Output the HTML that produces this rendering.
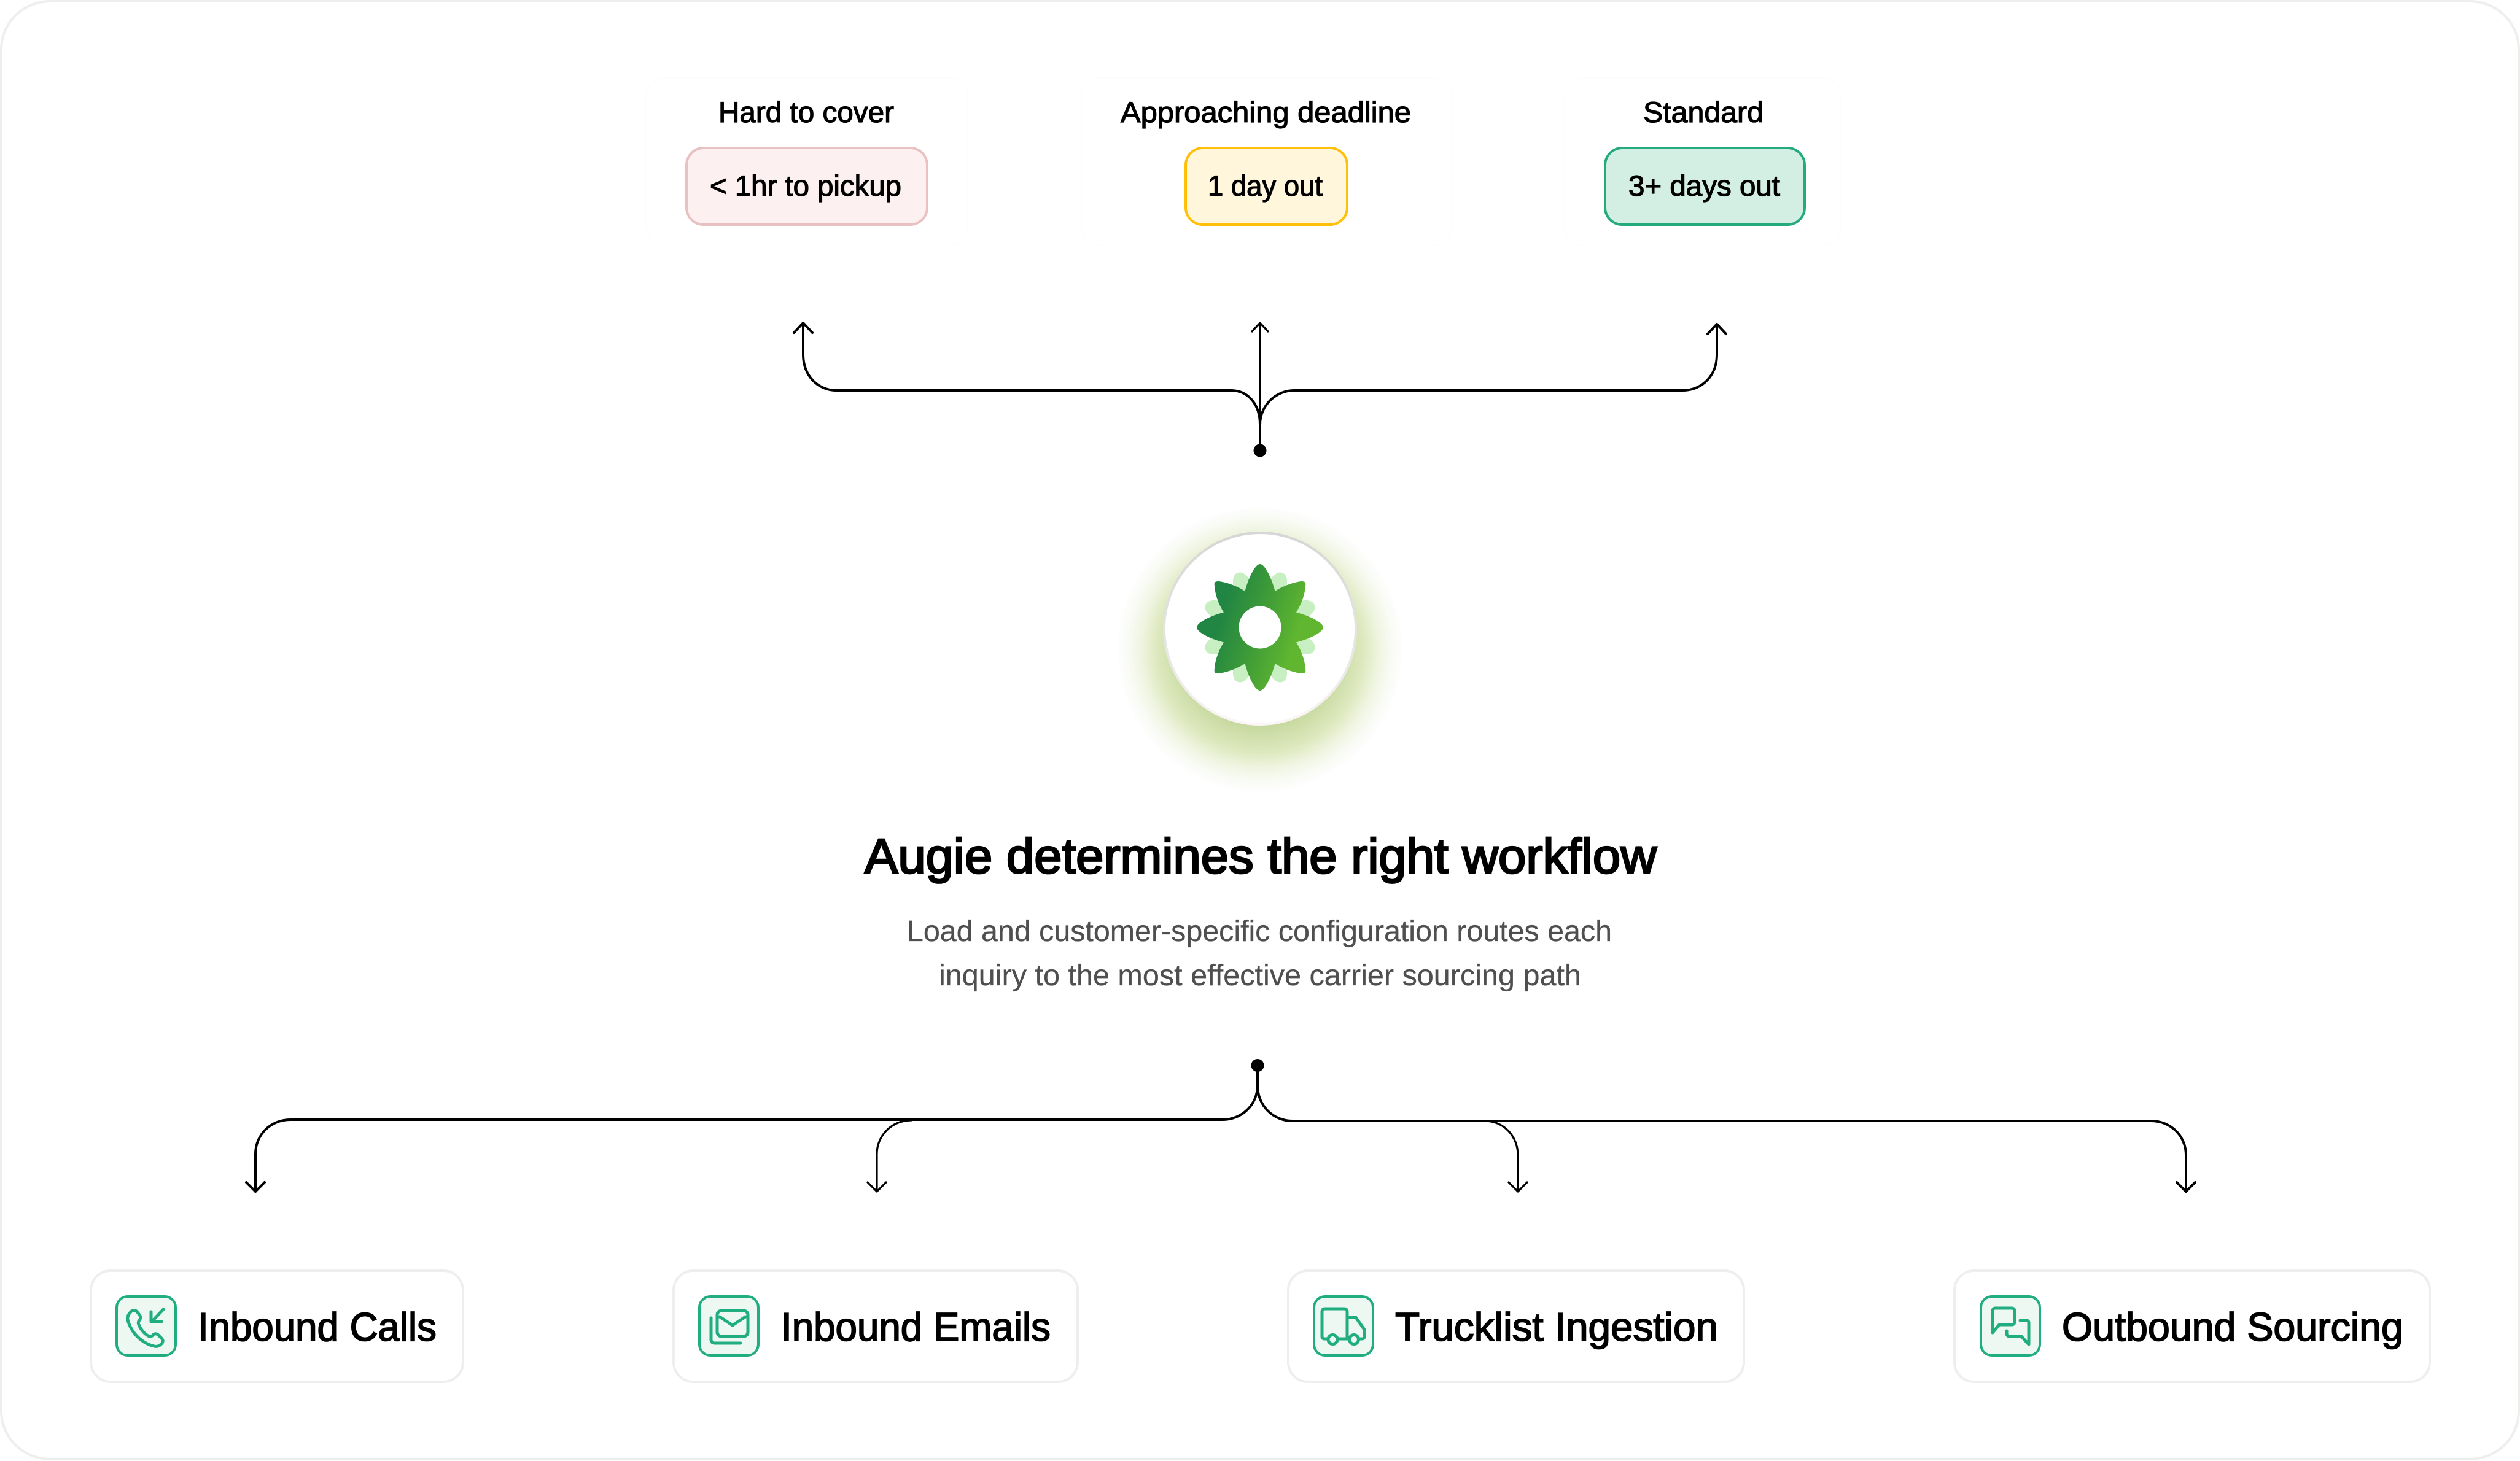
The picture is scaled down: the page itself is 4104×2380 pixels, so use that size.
<!DOCTYPE html>
<html lang="en">
<head>
<meta charset="utf-8">
<title>Augie determines the right workflow</title>
<style>
html,body{margin:0;padding:0;background:#fff;width:4104px;height:2380px;overflow:hidden}
svg{display:block}
text{font-family:"Liberation Sans",Arial,sans-serif;fill:#000}
.s{font-size:47px;stroke:#000;stroke-width:1.2px}
.c{font-size:65px;stroke:#000;stroke-width:1.8px}
.sub{font-size:48px;fill:#4f4f4f;stroke:#4f4f4f;stroke-width:.3px}
.line{fill:none;stroke:#000;stroke-width:4;stroke-linecap:round;stroke-linejoin:round}
.thin{fill:none;stroke:#000;stroke-width:3.2;stroke-linecap:round;stroke-linejoin:round}
.card{fill:#fff;stroke:#eeeeec;stroke-width:4}
.ib{fill:#eef8f3;stroke:#20ad7f;stroke-width:4}
.ic{fill:none;stroke:#20ad7f;stroke-width:5;stroke-linecap:round;stroke-linejoin:round}
</style>
</head>
<body>
<svg width="4104" height="2380" viewBox="0 0 4104 2380" xmlns="http://www.w3.org/2000/svg">
<defs>
<radialGradient id="glow" gradientUnits="userSpaceOnUse" cx="2052" cy="1058" r="232">
<stop offset="0" stop-color="#c0d494"/>
<stop offset=".53" stop-color="#c5d89e"/>
<stop offset=".72" stop-color="#dde8bd"/>
<stop offset=".84" stop-color="#f0f5e2"/>
<stop offset=".93" stop-color="#f9fbf5"/>
<stop offset="1" stop-color="#fefefe"/>
</radialGradient>
<linearGradient id="rim" x1="0" y1="0" x2="0" y2="1">
<stop offset="0" stop-color="#d6d6d6"/>
<stop offset=".6" stop-color="#e6e6e6"/>
<stop offset="1" stop-color="#fbf5f5"/>
</linearGradient>
<linearGradient id="fl" gradientUnits="userSpaceOnUse" x1="-65" y1="-20" x2="60" y2="20">
<stop offset="0" stop-color="#218543"/>
<stop offset=".5" stop-color="#3f9c37"/>
<stop offset="1" stop-color="#60b72f"/>
</linearGradient>
</defs>

<rect x="2" y="2" width="4100" height="2375" rx="80" ry="78" fill="#fff" stroke="#eeeeec" stroke-width="4"/>

<!-- faint top containers -->
<rect x="1052" y="127" width="524" height="273" rx="30" fill="#fff" stroke="#fdfdfd" stroke-width="2"/>
<rect x="1761" y="127" width="603" height="273" rx="30" fill="#fff" stroke="#fdfdfd" stroke-width="2"/>
<rect x="2548" y="127" width="450" height="273" rx="30" fill="#fff" stroke="#fdfdfd" stroke-width="2"/>

<!-- top labels -->
<text class="s" x="1170" y="199" textLength="286" lengthAdjust="spacingAndGlyphs">Hard to cover</text>
<text class="s" x="1825" y="199" textLength="473" lengthAdjust="spacingAndGlyphs">Approaching deadline</text>
<text class="s" x="2676" y="199" textLength="196" lengthAdjust="spacingAndGlyphs">Standard</text>

<rect x="1118" y="241" width="392" height="125" rx="28" fill="#fdf0f0" stroke="#e8c2c2" stroke-width="4"/>
<rect x="1931" y="241" width="263" height="125" rx="28" fill="#fff6dc" stroke="#ffbf0a" stroke-width="4"/>
<rect x="2614" y="241" width="325" height="125" rx="28" fill="#d3eee3" stroke="#23ab7d" stroke-width="4"/>

<text class="s" x="1156" y="319" textLength="312" lengthAdjust="spacingAndGlyphs">&lt; 1hr to pickup</text>
<text class="s" x="1967" y="319" textLength="187" lengthAdjust="spacingAndGlyphs">1 day out</text>
<text class="s" x="2652" y="319" textLength="247" lengthAdjust="spacingAndGlyphs">3+ days out</text>

<!-- top connectors -->
<path class="line" d="M2052 734 V692 C2052 660 2034 636 2004 636 H1362 C1332 636 1308 612 1308 578 V526"/>
<path class="line" d="M1293 542 L1308 526 L1323 542"/>
<path class="line" d="M2052 692 C2052 660 2078 636 2108 636 H2740 C2772 636 2796 612 2796 578 V528"/>
<path class="line" d="M2781 544 L2796 528 L2811 544"/>
<path class="thin" d="M2052 700 V526 M2039 540 L2052 526 L2065 540"/>
<circle cx="2052" cy="734" r="10.5" fill="#000"/>

<!-- Augie badge -->
<circle cx="2052" cy="1058" r="232" fill="url(#glow)"/>
<circle cx="2052" cy="1024" r="156" fill="#fff" stroke="url(#rim)" stroke-width="4"/>
<g transform="translate(2052 1022)">
  <g fill="#c8efc2">
    <path d="M0 0 L-16 -50 L-14 -80 Q-10 -96 0 -96 Q10 -96 14 -80 L16 -50 Z" transform="rotate(22.5)"/>
    <path d="M0 0 L-16 -50 L-14 -80 Q-10 -96 0 -96 Q10 -96 14 -80 L16 -50 Z" transform="rotate(67.5)"/>
    <path d="M0 0 L-16 -50 L-14 -80 Q-10 -96 0 -96 Q10 -96 14 -80 L16 -50 Z" transform="rotate(112.5)"/>
    <path d="M0 0 L-16 -50 L-14 -80 Q-10 -96 0 -96 Q10 -96 14 -80 L16 -50 Z" transform="rotate(157.5)"/>
    <path d="M0 0 L-16 -50 L-14 -80 Q-10 -96 0 -96 Q10 -96 14 -80 L16 -50 Z" transform="rotate(202.5)"/>
    <path d="M0 0 L-16 -50 L-14 -80 Q-10 -96 0 -96 Q10 -96 14 -80 L16 -50 Z" transform="rotate(247.5)"/>
    <path d="M0 0 L-16 -50 L-14 -80 Q-10 -96 0 -96 Q10 -96 14 -80 L16 -50 Z" transform="rotate(292.5)"/>
    <path d="M0 0 L-16 -50 L-14 -80 Q-10 -96 0 -96 Q10 -96 14 -80 L16 -50 Z" transform="rotate(337.5)"/>
  </g>
  <path fill="url(#fl)" d="M0 -103 C8 -103 19 -80 24.5 -59 C35 -66 52 -73 67 -75 C74 -75 75 -73 74 -67 C73 -52 66 -35 59 -24.5 C80 -19 103 -8 103 0 C103 8 80 19 59 24.5 C66 35 73 52 74 67 C75 73 74 75 67 75 C52 73 35 66 24.5 59 C19 80 8 103 0 103 C-8 103 -19 80 -24.5 59 C-35 66 -52 73 -67 75 C-74 75 -75 73 -74 67 C-73 52 -66 35 -59 24.5 C-80 19 -103 8 -103 0 C-103 -8 -80 -19 -59 -24.5 C-66 -35 -73 -52 -74 -67 C-75 -73 -74 -75 -67 -75 C-52 -73 -35 -66 -24.5 -59 C-19 -80 -8 -103 0 -103 Z"/>
  <circle r="34.5" fill="#fff"/>
</g>

<!-- heading -->
<text x="1408" y="1422" font-size="80" stroke="#000" stroke-width="2.8" textLength="1290" lengthAdjust="spacingAndGlyphs">Augie determines the right workflow</text>
<text class="sub" x="1477" y="1533" textLength="1148" lengthAdjust="spacingAndGlyphs">Load and customer-specific configuration routes each</text>
<text class="sub" x="1529" y="1605" textLength="1046" lengthAdjust="spacingAndGlyphs">inquiry to the most effective carrier sourcing path</text>

<!-- bottom connectors -->
<circle cx="2048" cy="1735.5" r="10.5" fill="#000"/>
<path class="line" d="M2048 1736 V1768 C2048 1800 2022 1824 1991 1824 H473 C441 1824 416 1848 416 1880 V1941"/>
<path class="line" d="M401 1926 L416 1941 L431 1926"/>
<path class="thin" d="M1484 1825 C1452 1825 1428 1850 1428 1880 V1941 M1413 1926 L1428 1941 L1443 1926"/>
<path class="line" d="M2048 1768 C2048 1802 2074 1826 2105 1826 H3503 C3535 1826 3560 1850 3560 1882 V1941"/>
<path class="line" d="M3545 1926 L3560 1941 L3575 1926"/>
<path class="thin" d="M2418 1826 C2450 1826 2472 1852 2472 1882 V1941 M2457 1926 L2472 1941 L2487 1926"/>

<!-- Inbound Calls -->
<rect class="card" x="148" y="2070" width="606" height="181" rx="32"/>
<g transform="translate(188 2110)">
  <rect class="ib" x="2" y="2" width="96" height="96" rx="18"/>
  <path class="ic" stroke-width="4.5" d="M25 27 C29 23 33 24 36 28 L40 33 C41 36 41 39 38 42 C37 44 37 46 38 48 C42 57 47 63 55 67 C57 68 59 67 61 65 C63 62 67 62 70 65 L75 70 C78 73 78 77 74 80 C71 83 67 84 63 83 C42 78 25 60 20 40 C19 35 21 31 25 27 Z"/>
  <path class="ic" d="M78 23 L59 43 M58 27 V43 H75"/>
</g>
<text class="c" x="322" y="2184" textLength="389" lengthAdjust="spacingAndGlyphs">Inbound Calls</text>

<!-- Inbound Emails -->
<rect class="card" x="1097" y="2070" width="658" height="181" rx="32"/>
<g transform="translate(1137 2110)">
  <rect class="ib" x="2" y="2" width="96" height="96" rx="18"/>
  <rect class="ic" x="31" y="25" width="50" height="42" rx="7"/>
  <path class="ic" d="M35 35 L56 49 L77 35"/>
  <path class="ic" d="M21 37 V72 Q21 78 27 78 H69"/>
</g>
<text class="c" x="1272" y="2184" textLength="439" lengthAdjust="spacingAndGlyphs">Inbound Emails</text>

<!-- Trucklist Ingestion -->
<rect class="card" x="2098" y="2070" width="742" height="181" rx="32"/>
<g transform="translate(2138 2110)">
  <rect class="ib" x="2" y="2" width="96" height="96" rx="18"/>
  <path class="ic" d="M25 71 H19 Q15 71 15 67 V27 Q15 22 20 22 H51 Q56 22 56 27 V71 M40 71 H59 M56 36 H70 L84 56 V67 Q84 71 80 71 H75"/>
  <circle class="ic" cx="32.5" cy="72" r="7.5"/>
  <circle class="ic" cx="67" cy="72" r="7.5"/>
</g>
<text class="c" x="2272" y="2184" textLength="526" lengthAdjust="spacingAndGlyphs">Trucklist Ingestion</text>

<!-- Outbound Sourcing -->
<rect class="card" x="3183" y="2070" width="774" height="181" rx="32"/>
<g transform="translate(3224 2110)">
  <rect class="ib" x="2" y="2" width="96" height="96" rx="18"/>
  <path class="ic" d="M21 61 V26 Q21 21 26 21 H52 Q57 21 57 26 V43 Q57 48 52 48 H32 Z"/>
  <path class="ic" d="M66 41 H76 Q80 41 80 45 V80 L68 67 H49 Q44 67 44 62 V58"/>
</g>
<text class="c" x="3358" y="2184" textLength="556" lengthAdjust="spacingAndGlyphs">Outbound Sourcing</text>
</svg>
</body>
</html>
